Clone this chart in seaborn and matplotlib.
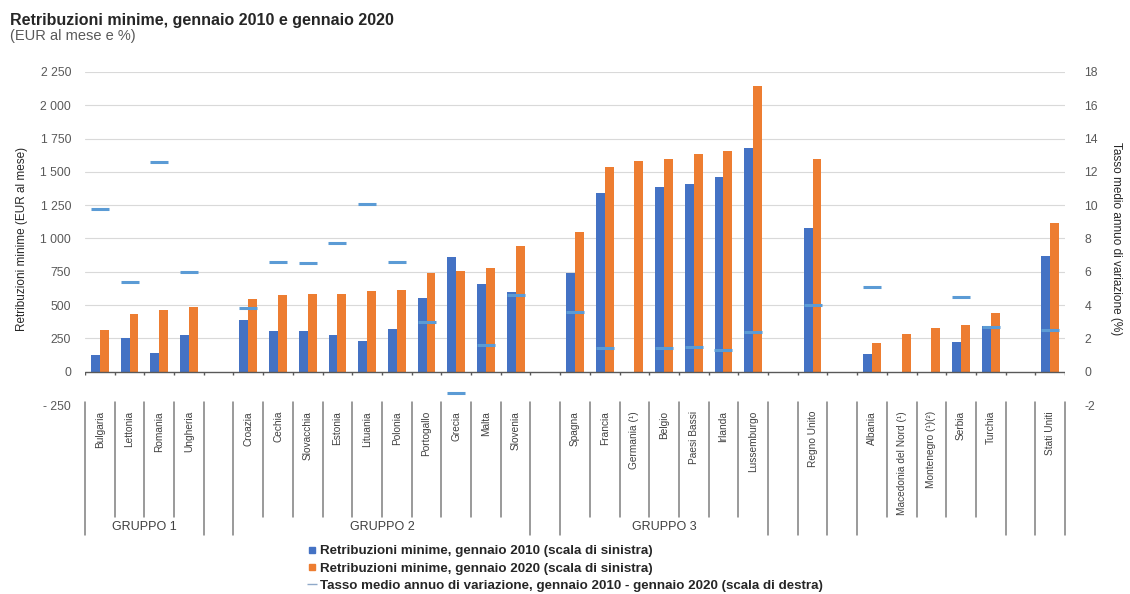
import numpy as np
import pandas as pd
import matplotlib
matplotlib.use("Agg")
import matplotlib.pyplot as plt
import seaborn as sns
from matplotlib.lines import Line2D

# --- data -------------------------------------------------------------------
paesi = [
    "Bulgaria", "Lettonia", "Romania", "Ungheria",
    "Croazia", "Cechia", "Slovacchia", "Estonia", "Lituania", "Polonia",
    "Portogallo", "Grecia", "Malta", "Slovenia",
    "Spagna", "Francia", "Germania (¹)", "Belgio", "Paesi Bassi", "Irlanda",
    "Lussemburgo",
    "Regno Unito",
    "Albania", "Macedonia del Nord (¹)", "Montenegro (¹)(²)", "Serbia", "Turchia",
    "Stati Uniti",
]
gruppi = [1] * 4 + [2] * 10 + [3] * 7 + [4] + [5] * 5 + [6]
nomi_gruppi = {1: "GRUPPO 1", 2: "GRUPPO 2", 3: "GRUPPO 3", 4: "", 5: "", 6: ""}

# EUR al mese
min_2010 = [123, 254, 142, 272,
            385, 302, 308, 278, 232, 321, 554, 863, 660, 597,
            739, 1344, np.nan, 1387, 1408, 1462, 1683,
            1076,
            134, np.nan, np.nan, 222, 340,
            872]
min_2020 = [312, 430, 466, 487,
            546, 575, 580, 584, 607, 611, 741, 758, 777, 941,
            1050, 1539, 1584, 1594, 1636, 1656, 2142,
            1598,
            213, 286, 331, 352, 442,
            1117]
# tasso medio annuo di variazione (%)
tasso = [9.8, 5.4, 12.6, 6.0,
         3.8, 6.6, 6.5, 7.7, 10.1, 6.6, 3.0, -1.3, 1.6, 4.6,
         3.6, 1.4, np.nan, 1.4, 1.5, 1.3, 2.4,
         4.0,
         5.1, np.nan, np.nan, 4.5, 2.7,
         2.5]

serie_2010 = "Retribuzioni minime, gennaio 2010 (scala di sinistra)"
serie_2020 = "Retribuzioni minime, gennaio 2020 (scala di sinistra)"
serie_tasso = "Tasso medio annuo di variazione, gennaio 2010 - gennaio 2020 (scala di destra)"

tick_sx = [-250, 0, 250, 500, 750, 1000, 1250, 1500, 1750, 2000, 2250]
tick_dx = [-2, 0, 2, 4, 6, 8, 10, 12, 14, 16, 18]

BLU = "#4472C4"
ARANCIO = "#ED7D31"
AZZURRO = "#5B9BD5"
GRIGIO = "#595959"

# --- slots: countries with an empty slot between groups ----------------------
ordine = []
for i, (p, g) in enumerate(zip(paesi, gruppi)):
    if i > 0 and g != gruppi[i - 1]:
        ordine.append(f"__spazio{len(ordine)}")
    ordine.append(p)
posizione = {nome: k for k, nome in enumerate(ordine)}

n = len(paesi)
df_barre = pd.DataFrame({
    "paese": paesi * 2,
    "serie": [serie_2010] * n + [serie_2020] * n,
    "valore": min_2010 + min_2020,
})
df_tasso = pd.DataFrame({
    "x": [posizione[p] for p in paesi],
    "tasso": tasso,
}).dropna()

# --- figure -------------------------------------------------------------------
sns.set_style("white")
plt.rcParams["font.family"] = ["Liberation Sans", "DejaVu Sans"]

fig = plt.figure(figsize=(11.3, 5.94), dpi=100)
ax = fig.add_axes([85 / 1130, 1 - 405 / 594, 980 / 1130, 333 / 594])

sns.barplot(data=df_barre, x="paese", y="valore", hue="serie",
            order=ordine, hue_order=[serie_2010, serie_2020],
            palette=[BLU, ARANCIO], width=0.6, gap=0, saturation=1,
            errorbar=None, legend=False, ax=ax, zorder=3,
            linewidth=0, edgecolor="none")

ax.set_xlim(-0.5, len(ordine) - 0.5)
ax.set_ylim(-250, 2250)
ax.set_yticks(tick_sx)


def fmt_eur(v):
    s = f"{abs(v):,}".replace(",", " ")
    return f"- {s}" if v < 0 else s


ax.set_yticklabels([fmt_eur(v) for v in tick_sx])
for v in tick_sx:
    if v > 0:
        ax.axhline(v, color="#D9D9D9", lw=0.8, zorder=0)
ax.axhline(0, color=GRIGIO, lw=1.0, zorder=4)
confini = np.arange(len(ordine) + 1) - 0.5
ax.vlines(confini, -24, 0, color=GRIGIO, lw=1.0, zorder=4)

ax.set_xticks([])
ax.set_xlabel("")
ax.set_ylabel("Retribuzioni minime (EUR al mese)", fontsize=8.5, color="#262626", labelpad=9)
ax.tick_params(axis="y", length=0, labelsize=8.8, labelcolor=GRIGIO, pad=10)
for s in ax.spines.values():
    s.set_visible(False)

# right axis: rates as short dashes
ax2 = ax.twinx()
sns.scatterplot(data=df_tasso, x="x", y="tasso", marker="_", s=175,
                color=AZZURRO, edgecolor=AZZURRO, linewidth=2.2, ax=ax2,
                zorder=5, legend=False)
ax2.set_ylim(-2, 18)
ax2.set_yticks(tick_dx)
ax2.set_yticklabels([str(v) for v in tick_dx])
ax2.set_ylabel("Tasso medio annuo di variazione (%)", fontsize=8.5, color="#262626",
               rotation=270, labelpad=17)
ax2.tick_params(axis="y", length=0, labelsize=8.8, labelcolor=GRIGIO, pad=14)
ax2.set_xlim(-0.5, len(ordine) - 0.5)
for s in ax2.spines.values():
    s.set_visible(False)

# category table below the plot
trans = ax.get_xaxis_transform()
for p in paesi:
    ax.text(posizione[p], -0.018, p, transform=trans, rotation=90,
            ha="center", va="top", fontsize=7.3, color="#404040")

vuoti = [k for k, nome in enumerate(ordine) if nome.startswith("__spazio")]
for b in confini:
    sx, dx = int(b - 0.5), int(b + 0.5)
    lungo = sx < 0 or dx >= len(ordine) or sx in vuoti or dx in vuoti
    y_fine = -0.39 if lungo else -0.336
    ax.plot([b, b], [0.008, y_fine], transform=trans, clip_on=False,
            color="#7F7F7F", lw=1.1)

for g, etichetta in nomi_gruppi.items():
    if etichetta:
        xs = [posizione[p] for p, gg in zip(paesi, gruppi) if gg == g]
        ax.text(np.mean(xs), -0.366, etichetta, transform=trans, ha="center",
                va="center", fontsize=9, color="#404040")

# titles
fig.text(0.009, 1 - 21 / 594, "Retribuzioni minime, gennaio 2010 e gennaio 2020",
         fontsize=11.5, fontweight="bold", color="#262626", va="center")
fig.text(0.009, 1 - 36 / 594, "(EUR al mese e %)", fontsize=10.5,
         color="#595959", va="center")

# legend
handles = [
    Line2D([], [], marker="s", ls="none", color=BLU, markersize=4),
    Line2D([], [], marker="s", ls="none", color=ARANCIO, markersize=4),
    Line2D([], [], marker="_", ls="none", color="#8FA9C9", markersize=7, markeredgewidth=1),
]
fig.legend(handles, [serie_2010, serie_2020, serie_tasso], loc="upper left",
           bbox_to_anchor=(308 / 1130, 1 - 545 / 594), frameon=False,
           prop={"size": 9.6, "weight": "bold"}, handlelength=0.6,
           handletextpad=0.3, labelspacing=0.38, borderpad=0, borderaxespad=0,
           labelcolor="#262626")

fig.savefig("out.png", dpi=100)
